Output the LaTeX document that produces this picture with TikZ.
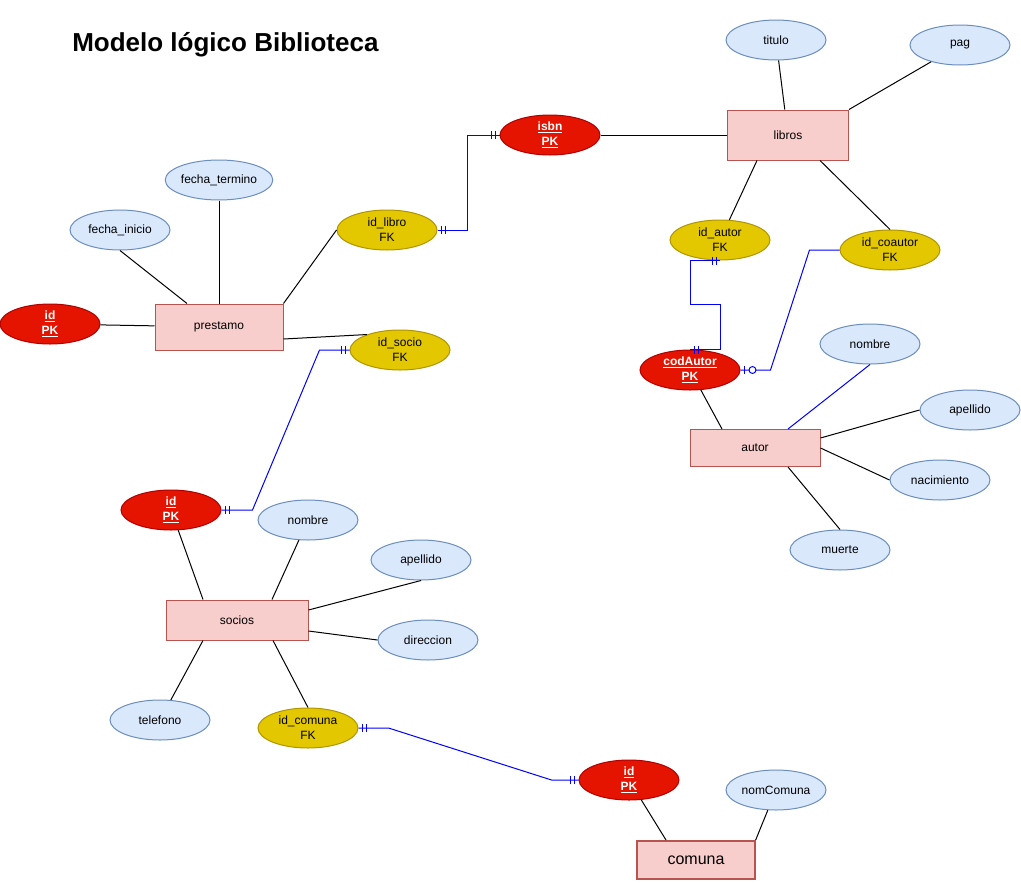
\documentclass[tikz,border=0pt]{standalone}
\usepackage{fontspec}
\setmainfont{Liberation Sans}
\usetikzlibrary{shapes.geometric,calc,decorations.markings}

\definecolor{azulF}{HTML}{DAE8FC}
\definecolor{azulB}{HTML}{6C8EBF}
\definecolor{rojoF}{HTML}{E51400}
\definecolor{rojoB}{HTML}{B20000}
\definecolor{amaF}{HTML}{E3C800}
\definecolor{amaB}{HTML}{B09500}
\definecolor{rosaF}{HTML}{F8CECC}
\definecolor{rosaB}{HTML}{B85450}

\tikzset{
  atributo/.style={ellipse, draw=azulB, fill=azulF, line width=0.75pt,
    minimum width=75pt, minimum height=30pt, inner sep=0pt, align=center,
    font=\fontsize{9}{11.25}\selectfont},
  clave/.style={atributo, draw=rojoB, fill=rojoF, text=white,
    font=\bfseries\fontsize{9}{11.25}\selectfont},
  foranea/.style={atributo, draw=amaB, fill=amaF},
  entidad/.style={rectangle, draw=rosaB, fill=rosaF, line width=0.75pt,
    inner sep=0pt, font=\fontsize{9}{11.25}\selectfont},
  linea/.style={line width=0.75pt},
  enlace/.style={blue, line width=0.75pt},
  unoini/.style={postaction={decorate, decoration={markings,
    mark=at position 3pt with {\draw[blue, line width=0.75pt] (0,-3pt) -- (0,3pt);},
    mark=at position 6pt with {\draw[blue, line width=0.75pt] (0,-3pt) -- (0,3pt);}}}},
  unofin/.style={postaction={decorate, decoration={markings,
    mark=at position -3pt with {\draw[blue, line width=0.75pt] (0,-3pt) -- (0,3pt);},
    mark=at position -6pt with {\draw[blue, line width=0.75pt] (0,-3pt) -- (0,3pt);}}}},
  cerounofin/.style={postaction={decorate, decoration={markings,
    mark=at position -3pt with {\draw[blue, line width=0.75pt] (0,-3pt) -- (0,3pt);},
    mark=at position -9pt with {\draw[blue, line width=0.75pt, fill=white] (0,0) circle (2.6pt);}}}}
}

\begin{document}
\begin{tikzpicture}[x=0.75pt, y=-0.75pt]
  \useasboundingbox (0,0) rectangle (1021,882);

  % Titulo
  \node[anchor=west, inner sep=0pt, font=\bfseries\fontsize{19.5}{22}\selectfont] (cabecera)
    at (72,45) {Modelo lógico Biblioteca};

  % Entidades
  \node[entidad, minimum width=90.75pt, minimum height=37.5pt] (libros) at (788,135) {libros};
  \node[entidad, minimum width=96pt, minimum height=34.5pt] (prestamo) at (219,327) {prestamo};
  \node[entidad, minimum width=97.5pt, minimum height=27.75pt] (autor) at (755,448) {autor};
  \node[entidad, minimum width=106.5pt, minimum height=30pt] (socios) at (237,620) {socios};
  \node[entidad, line width=1.5pt, minimum width=88pt, minimum height=28.5pt,
    font=\fontsize{12}{14}\selectfont] (comuna) at (696,860) {comuna};

  % Atributos
  \foreach \n/\x/\y/\t in {titulo/776/40/titulo, pag/960/45/pag,
      fini/120/230/fecha\_inicio, fter/219/180/fecha\_termino,
      nomaut/870/344/nombre, apeaut/970/410/apellido,
      nacim/940/480/nacimiento, muerte/840/550/muerte,
      nomsoc/308/520/nombre, apesoc/421/560/apellido,
      direc/428/640/direccion, telef/160/720/telefono,
      nomcom/776/790/nomComuna}
    \node[atributo] (\n) at (\x,\y) {\t};

  % Claves primarias
  \foreach \n/\x/\y/\t in {isbn/550/135/isbn, idpres/50/324/id,
      codaut/690/370/codAutor, idsoc/171/510/id, idcom/629/780/id}
    \node[clave] (\n) at (\x,\y) {\underline{\t}\\\underline{PK}};

  % Claves foraneas
  \foreach \n/\x/\y/\t in {fklibro/387/230/id\_libro, fksocio/400/350/id\_socio,
      fkautor/720/240/id\_autor, fkcoautor/890/250/id\_coautor,
      fkcomuna/308/728/id\_comuna}
    \node[foranea] (\n) at (\x,\y) {\t\\FK};

  % Lineas de atributos
  \draw[linea] (titulo) -- (libros);
  \draw[linea] (pag) -- (libros.north east);
  \draw[linea] (isbn) -- (libros);
  \draw[linea] ($(libros.south)+(-31,0)$) -- (fkautor);
  \draw[linea] ($(libros.south)+(32,0)$) -- (fkcoautor.north);
  \draw[linea] (fini.south) -- ($(prestamo.north)+(-32,0)$);
  \draw[linea] (fter) -- (prestamo);
  \draw[linea] (prestamo.north east) -- (fklibro.west);
  \draw[linea] (idpres) -- (prestamo);
  \draw[linea] ($(prestamo.east)+(0,12)$) -- (fksocio.155);
  \draw[linea] (codaut) -- ($(autor.north)+(-33,0)$);
  \draw[enlace] ($(autor.north)+(33,0)$) -- (nomaut.south);
  \draw[linea] ($(autor.east)+(0,-10)$) -- (apeaut.west);
  \draw[linea] (autor.east) -- (nacim.west);
  \draw[linea] ($(autor.south)+(33,0)$) -- (muerte.north);
  \draw[linea] (idsoc) -- ($(socios.north)+(-34,0)$);
  \draw[linea] (nomsoc) -- ($(socios.north)+(35,0)$);
  \draw[linea] (apesoc.south) -- ($(socios.east)+(0,-10)$);
  \draw[linea] ($(socios.east)+(0,11)$) -- (direc.west);
  \draw[linea] ($(socios.south)+(-34,0)$) -- (telef);
  \draw[linea] ($(socios.south)+(36,0)$) -- (fkcomuna.north);
  \draw[linea] (idcom) -- ($(comuna.north)+(-30,0)$);
  \draw[linea] (nomcom) -- (comuna.north east);

  % Relaciones
  \draw[enlace, unoini, unofin] (fklibro.east) -- ++(30,0) |- (isbn.west);
  \draw[enlace, unoini, unofin] (fksocio.west) -- ++(-30,0)
    -- ($(idsoc.east)+(31,0)$) -- (idsoc.east);
  \draw[enlace, unoini, unofin] (codaut.north) -- ++(30,0) -- ++(0,-45)
    -- ++(-30,0) |- (fkautor.south);
  \draw[enlace, cerounofin] (fkcoautor.west) -- ++(-30,0)
    -- ($(codaut.east)+(30,0)$) -- (codaut.east);
  \draw[enlace, unoini, unofin] (fkcomuna.east) -- ++(30,0)
    -- ($(idcom.west)+(-27,0)$) -- (idcom.west);
\end{tikzpicture}
\end{document}
